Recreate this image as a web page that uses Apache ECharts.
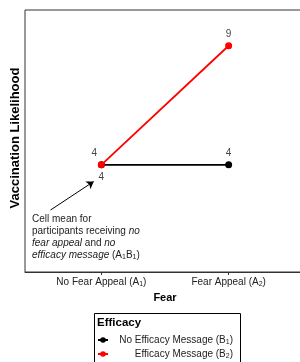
<!DOCTYPE html>
<html>
<head>
<meta charset="utf-8">
<script src="https://cdn.jsdelivr.net/npm/echarts@6/dist/echarts.min.js"></script>
<style>
  html, body { margin: 0; padding: 0; background: #fff; }
  #main { width: 300px; height: 362px; }
</style>
</head>
<body>
<div id="main"></div>
<script>
// fear levels (x positions 1 and 2)
const fearLevels = [1, 2];
const fearLabels = ['{a|No Fear Appeal (A}{s|1}{a|)}', '{a|Fear Appeal (A}{s|2}{a|)}'];
const noEfficacy = [4, 4];   // B1
const efficacy = [4, 9];     // B2
const seriesNames = ['{a|No Efficacy Message (B}{s|1}{a|)}', '{a|Efficacy Message (B}{s|2}{a|)}'];

const chart = echarts.init(document.getElementById('main'));

const FONT = 'Liberation Sans, Arial, sans-serif';
function richSub(align) {
  return {
    a: { fontSize: 10, fontFamily: FONT, color: '#222', lineHeight: 12, align: align },
    s: { fontSize: 7, fontFamily: FONT, color: '#222', lineHeight: 12, verticalAlign: 'bottom', padding: [5, 0, 0, 0], align: align }
  };
}

// label placement per point
const blackLabel = [
  { position: 'bottom', distance: 4 },
  { position: 'top', distance: 3 }
];
const redLabel = [
  { position: 'top', distance: 3, offset: [-7, 0] },
  { position: 'top', distance: 3 }
];

function build(vals, labs) {
  return vals.map((v, i) => ({ value: [fearLevels[i], v], label: labs[i] }));
}

const option = {
  animation: false,
  grid: {
    left: 25, top: 10, width: 280, height: 262,
    outerBoundsMode: 'none',
    containLabel: false,
    show: true, borderColor: '#333', borderWidth: 1
  },
  xAxis: {
    type: 'value',
    min: 0.4, max: 2.6,
    name: 'Fear',
    nameLocation: 'middle',
    nameGap: 16,
    nameTextStyle: { fontFamily: FONT, fontSize: 11, fontWeight: 'bold', color: '#000' },
    axisLine: { show: true, onZero: false, lineStyle: { color: '#333', width: 1 } },
    axisTick: { show: true, length: 3, customValues: fearLevels, lineStyle: { color: '#333' } },
    axisLabel: {
      customValues: fearLevels,
      margin: 4,
      formatter: v => fearLabels[fearLevels.indexOf(v)],
      rich: richSub('left')
    },
    splitLine: { show: false }
  },
  yAxis: {
    type: 'value',
    min: -0.5, max: 10.5,
    name: 'Vaccination Likelihood',
    nameLocation: 'middle',
    nameGap: 3,
    nameTextStyle: { fontFamily: FONT, fontSize: 13, fontWeight: 'bold', color: '#000', padding: [0, 0, 0, 6] },
    axisLine: { show: false },
    axisTick: { show: false },
    axisLabel: { show: false },
    splitLine: { show: false }
  },
  legend: {
    orient: 'vertical',
    left: 97, top: 334,
    itemWidth: 10, itemHeight: 7, itemGap: 2,
    padding: 0,
    data: ['B1', 'B2'],
    formatter: name => seriesNames[name === 'B1' ? 0 : 1],
    textStyle: {
      width: 120,
      rich: richSub('right')
    }
  },
  graphic: [
    {
      type: 'rect', left: 92, top: 311,
      shape: { width: 146, height: 70 },
      style: { fill: 'none', stroke: '#000', lineWidth: 1 }
    },
    {
      type: 'text', left: 97, top: 317,
      style: { text: 'Efficacy', font: 'bold 11.5px ' + FONT, fill: '#000' }
    },
    {
      type: 'text', left: 32, top: 213,
      style: {
        text: 'Cell mean for\nparticipants receiving {i|no}\n{i|fear appeal} and {i|no}\n{i|efficacy message} (A{s|1}B{s|1})',
        font: '10px ' + FONT,
        fill: '#222',
        lineHeight: 12,
        rich: {
          i: { fontStyle: 'italic', fontSize: 10, fontFamily: FONT, fill: '#222', lineHeight: 12 },
          s: { fontSize: 7, fontFamily: FONT, fill: '#222', lineHeight: 12, verticalAlign: 'bottom', padding: [5, 0, 0, 0] }
        }
      }
    }
  ],
  series: [
    {
      name: 'B1',
      type: 'line',
      data: build(noEfficacy, blackLabel),
      symbol: 'circle', symbolSize: 7,
      lineStyle: { color: '#000', width: 1.8 },
      itemStyle: { color: '#000' },
      label: { show: true, formatter: p => p.value[1], fontFamily: FONT, fontSize: 10, color: '#444' },
      z: 2
    },
    {
      name: 'B2',
      type: 'line',
      data: build(efficacy, redLabel),
      symbol: 'circle', symbolSize: 7,
      lineStyle: { color: '#ff0000', width: 1.8 },
      itemStyle: { color: '#ff0000' },
      label: { show: true, formatter: p => p.value[1], fontFamily: FONT, fontSize: 10, color: '#444' },
      markLine: {
        silent: true,
        symbol: ['none', 'arrow'],
        symbolSize: 7,
        label: { show: false },
        lineStyle: { color: '#000', width: 1, type: 'solid' },
        data: [[{ coord: [0.6, 2.1] }, { coord: [0.94, 3.3] }]]
      },
      z: 3
    }
  ]
};

chart.setOption(option);
</script>
</body>
</html>
